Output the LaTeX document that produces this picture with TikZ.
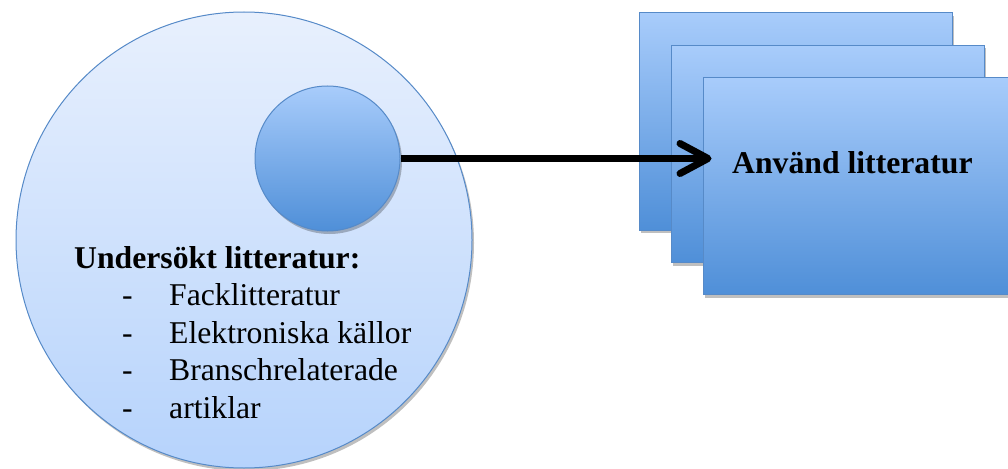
\documentclass[tikz,border=0pt]{standalone}
\usepackage{fontspec}
\setmainfont{Liberation Serif}
\usepackage{tikz}
\usetikzlibrary{arrows.meta}
\usetikzlibrary{shadows}
\definecolor{edgeblue}{RGB}{86,138,200}
\definecolor{paletop}{RGB}{232,240,253}
\definecolor{palebottom}{RGB}{182,211,252}
\definecolor{midtop}{RGB}{168,204,251}
\definecolor{midbottom}{RGB}{79,143,216}

\begin{document}
\begin{tikzpicture}[x=1pt, y=-1pt,
		softshadow/.style={drop shadow={shadow xshift=2pt, shadow yshift=-3pt, opacity=0.25, fill=black}},
		bigdisc/.style={circle, draw=edgeblue, line width=1pt, top color=paletop, bottom color=palebottom, softshadow, minimum size=456pt, inner sep=0},
		smalldisc/.style={circle, draw=edgeblue, line width=1pt, top color=midtop, bottom color=midbottom, softshadow, minimum size=145pt, inner sep=0},
		sheet/.style={rectangle, draw=edgeblue, line width=1pt, top color=midtop, bottom color=midbottom, softshadow, minimum width=313pt, minimum height=217pt, inner sep=0},
		txt/.style={inner sep=0, font=\fontsize{31.7}{37.5}\selectfont}]
		\useasboundingbox (0,0) rectangle (1008,468);
		\path (244,240) node(big)[bigdisc]{}
		(327.5,158.5) node(small)[smalldisc]{}
		(795.5,121.5) node(stack1)[sheet]{}
		(827.5,154) node(stack2)[sheet]{}
		(859.5,186) node(stack3)[sheet]{};
		\path (74,268) node(undersokt)[txt, anchor=base west]{%
			\begin{tabular}[t]{@{\hspace{48pt}}p{47pt}@{}l@{}}
				\multicolumn{2}{@{}l@{}}{\bfseries Undersökt litteratur:}\\
				- & Facklitteratur\\
				- & Elektroniska källor\\
				- & Branschrelaterade\\
				- & artiklar
			\end{tabular}}
		(732,173) node(anvand)[txt, anchor=base west]{\bfseries Använd litteratur};
		\draw [line width=7pt, black, -{Straight Barb[length=28pt, width=30pt, round]}] (small.east) -- ([xshift=9pt]stack3.west |- small.east);
	\end{tikzpicture}
\end{document}
